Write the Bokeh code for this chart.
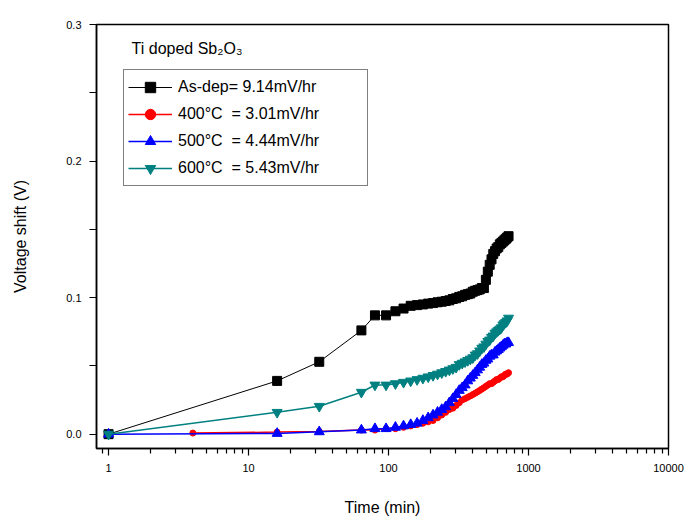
from bokeh.plotting import figure
from bokeh.models import Range1d, FixedTicker, PrintfTickFormatter, Label, Legend, LegendItem
from bokeh.embed import file_html
from bokeh.resources import INLINE

# ---- data ----
dense_t = [80, 96, 112, 128, 144, 160, 176, 192, 208, 224, 240, 256, 272, 288,
           304, 320, 336, 352, 368, 384, 400, 416, 432, 448, 464, 480, 496, 512,
           528, 544, 560, 576, 592, 608, 624, 640, 656, 672, 688, 704, 720]

t_asdep = [1, 16, 32, 64] + dense_t
v_asdep = [0.0, 0.039, 0.053, 0.076,
           0.087, 0.087, 0.090, 0.092, 0.094, 0.0945, 0.095, 0.0956, 0.096, 0.0966,
           0.097, 0.0975, 0.098, 0.099, 0.0995, 0.1005, 0.101, 0.102, 0.1025, 0.103,
           0.1043, 0.105, 0.1055, 0.106, 0.107, 0.107, 0.113, 0.119, 0.124, 0.128,
           0.132, 0.134, 0.136, 0.137, 0.139, 0.140, 0.141, 0.142, 0.143, 0.144, 0.145]

t_400 = [4, 16, 32, 64] + dense_t
v_400 = [0.0008, 0.0015, 0.002, 0.003,
         0.003, 0.004, 0.004, 0.005, 0.006, 0.007, 0.008, 0.009, 0.010, 0.012,
         0.014, 0.016, 0.018, 0.019, 0.021, 0.023, 0.025, 0.026, 0.027, 0.028,
         0.029, 0.030, 0.031, 0.032, 0.033, 0.034, 0.035, 0.036, 0.037, 0.037,
         0.038, 0.039, 0.040, 0.040, 0.041, 0.042, 0.042, 0.043, 0.044, 0.044, 0.045]

t_500 = [1, 16, 32, 64] + dense_t
v_500 = [0.0, 0.0005, 0.0017, 0.003,
         0.004, 0.004, 0.005, 0.006, 0.007, 0.008, 0.010, 0.012, 0.014, 0.016,
         0.018, 0.020, 0.023, 0.026, 0.029, 0.032, 0.034, 0.036, 0.039, 0.041,
         0.043, 0.045, 0.047, 0.049, 0.051, 0.052, 0.054, 0.055, 0.057, 0.058,
         0.058, 0.060, 0.061, 0.062, 0.063, 0.064, 0.065, 0.066, 0.066, 0.067, 0.067]

t_600 = [1, 16, 32, 64] + dense_t
v_600 = [0.0, 0.016, 0.0204, 0.0307,
         0.036, 0.036, 0.037, 0.038, 0.039, 0.040, 0.041, 0.042, 0.043, 0.044,
         0.045, 0.046, 0.047, 0.048, 0.049, 0.051, 0.052, 0.053, 0.054, 0.055,
         0.056, 0.058, 0.059, 0.061, 0.063, 0.064, 0.066, 0.068, 0.069, 0.071,
         0.072, 0.074, 0.075, 0.076, 0.077, 0.078, 0.080, 0.081, 0.082, 0.083, 0.085]

labels = ["As-dep= 9.14mV/hr", "400°C  = 3.01mV/hr",
          "500°C  = 4.44mV/hr", "600°C  = 5.43mV/hr"]

x_major = [1, 10, 100, 1000, 10000]
x_minor = [0.9, 2, 3, 4, 5, 6, 7, 8, 9, 20, 30, 40, 50, 60, 70, 80, 90,
           200, 300, 400, 500, 600, 700, 800, 900,
           2000, 3000, 4000, 5000, 6000, 7000, 8000, 9000]
y_major = [0.0, 0.1, 0.2, 0.3]
y_minor = [0.05, 0.15, 0.25]

FONT = "Liberation Sans"

p = figure(width=689, height=518, x_axis_type="log",
           x_range=Range1d(0.82, 10000), y_range=Range1d(-0.0105, 0.3),
           output_backend="svg", toolbar_location=None)
p.min_border_left = 96
p.min_border_right = 21
p.min_border_top = 24
p.min_border_bottom = 69
p.background_fill_color = "white"
p.border_fill_color = "white"
p.outline_line_color = "black"
p.outline_line_width = 1.5
p.xgrid.visible = False
p.ygrid.visible = False

xa = p.xaxis[0]
xa.ticker = FixedTicker(ticks=x_major, minor_ticks=x_minor)
xa.formatter = PrintfTickFormatter(format="%d")
xa.axis_label = "Time (min)"
xa.major_tick_out = 7
xa.major_tick_in = 0
xa.minor_tick_out = 5
xa.minor_tick_in = 0
xa.major_label_standoff = 8
xa.axis_label_standoff = 24

ya = p.yaxis[0]
ya.ticker = FixedTicker(ticks=y_major, minor_ticks=y_minor)
ya.formatter = PrintfTickFormatter(format="%.1f")
ya.axis_label = "Voltage shift (V)"
ya.major_tick_out = 7
ya.major_tick_in = 0
ya.minor_tick_out = 7
ya.minor_tick_in = 0
ya.major_label_standoff = 8
ya.axis_label_standoff = 34

for ax in (xa, ya):
    ax.axis_line_color = "black"
    ax.axis_line_width = 1.5
    ax.major_tick_line_color = "black"
    ax.minor_tick_line_color = "black"
    ax.major_tick_line_width = 1.2
    ax.minor_tick_line_width = 1.2
    ax.major_label_text_font = FONT
    ax.major_label_text_font_size = "11px"
    ax.major_label_text_color = "black"
    ax.axis_label_text_font = FONT
    ax.axis_label_text_font_size = "16px"
    ax.axis_label_text_font_style = "normal"
    ax.axis_label_text_color = "black"

items = []
# As-dep
l1 = p.line(t_asdep, v_asdep, line_color="black", line_width=1)
s1 = p.scatter(t_asdep, v_asdep, marker="square", size=9,
               fill_color="black", line_color="black")
items.append(LegendItem(label=labels[0], renderers=[l1, s1]))
# 400 C
l2 = p.line(t_400, v_400, line_color="#FF0000", line_width=1.5)
s2 = p.scatter(t_400, v_400, marker="circle", size=6,
               fill_color="#FF0000", line_color="#FF0000")
items.append(LegendItem(label=labels[1], renderers=[l2, s2]))
# 500 C
l3 = p.line(t_500, v_500, line_color="#0000FF", line_width=1.5)
s3 = p.scatter(t_500, v_500, marker="triangle", size=10,
               fill_color="#0000FF", line_color="#0000FF")
items.append(LegendItem(label=labels[2], renderers=[l3, s3]))
# 600 C
l4 = p.line(t_600, v_600, line_color="#008080", line_width=1.5)
s4 = p.scatter(t_600, v_600, marker="inverted_triangle", size=10,
               fill_color="#008080", line_color="#008080")
items.append(LegendItem(label=labels[3], renderers=[l4, s4]))

legend = Legend(items=items, location=(27, 262), margin=0,
                padding=4, spacing=1, label_height=26, glyph_height=26,
                glyph_width=44, label_standoff=6, label_width=185,
                border_line_color="black", border_line_width=1.2,
                background_fill_color="white", background_fill_alpha=1.0,
                label_text_font=FONT, label_text_font_size="16px",
                label_text_color="black")
p.add_layout(legend, "center")

title = Label(x=1.46, y=0.289, text="Ti doped Sb₂O₃",
              text_font=FONT, text_font_size="16px", text_color="black",
              text_baseline="top", text_align="left")
p.add_layout(title)

open("out.html", "w").write(file_html(p, INLINE))
